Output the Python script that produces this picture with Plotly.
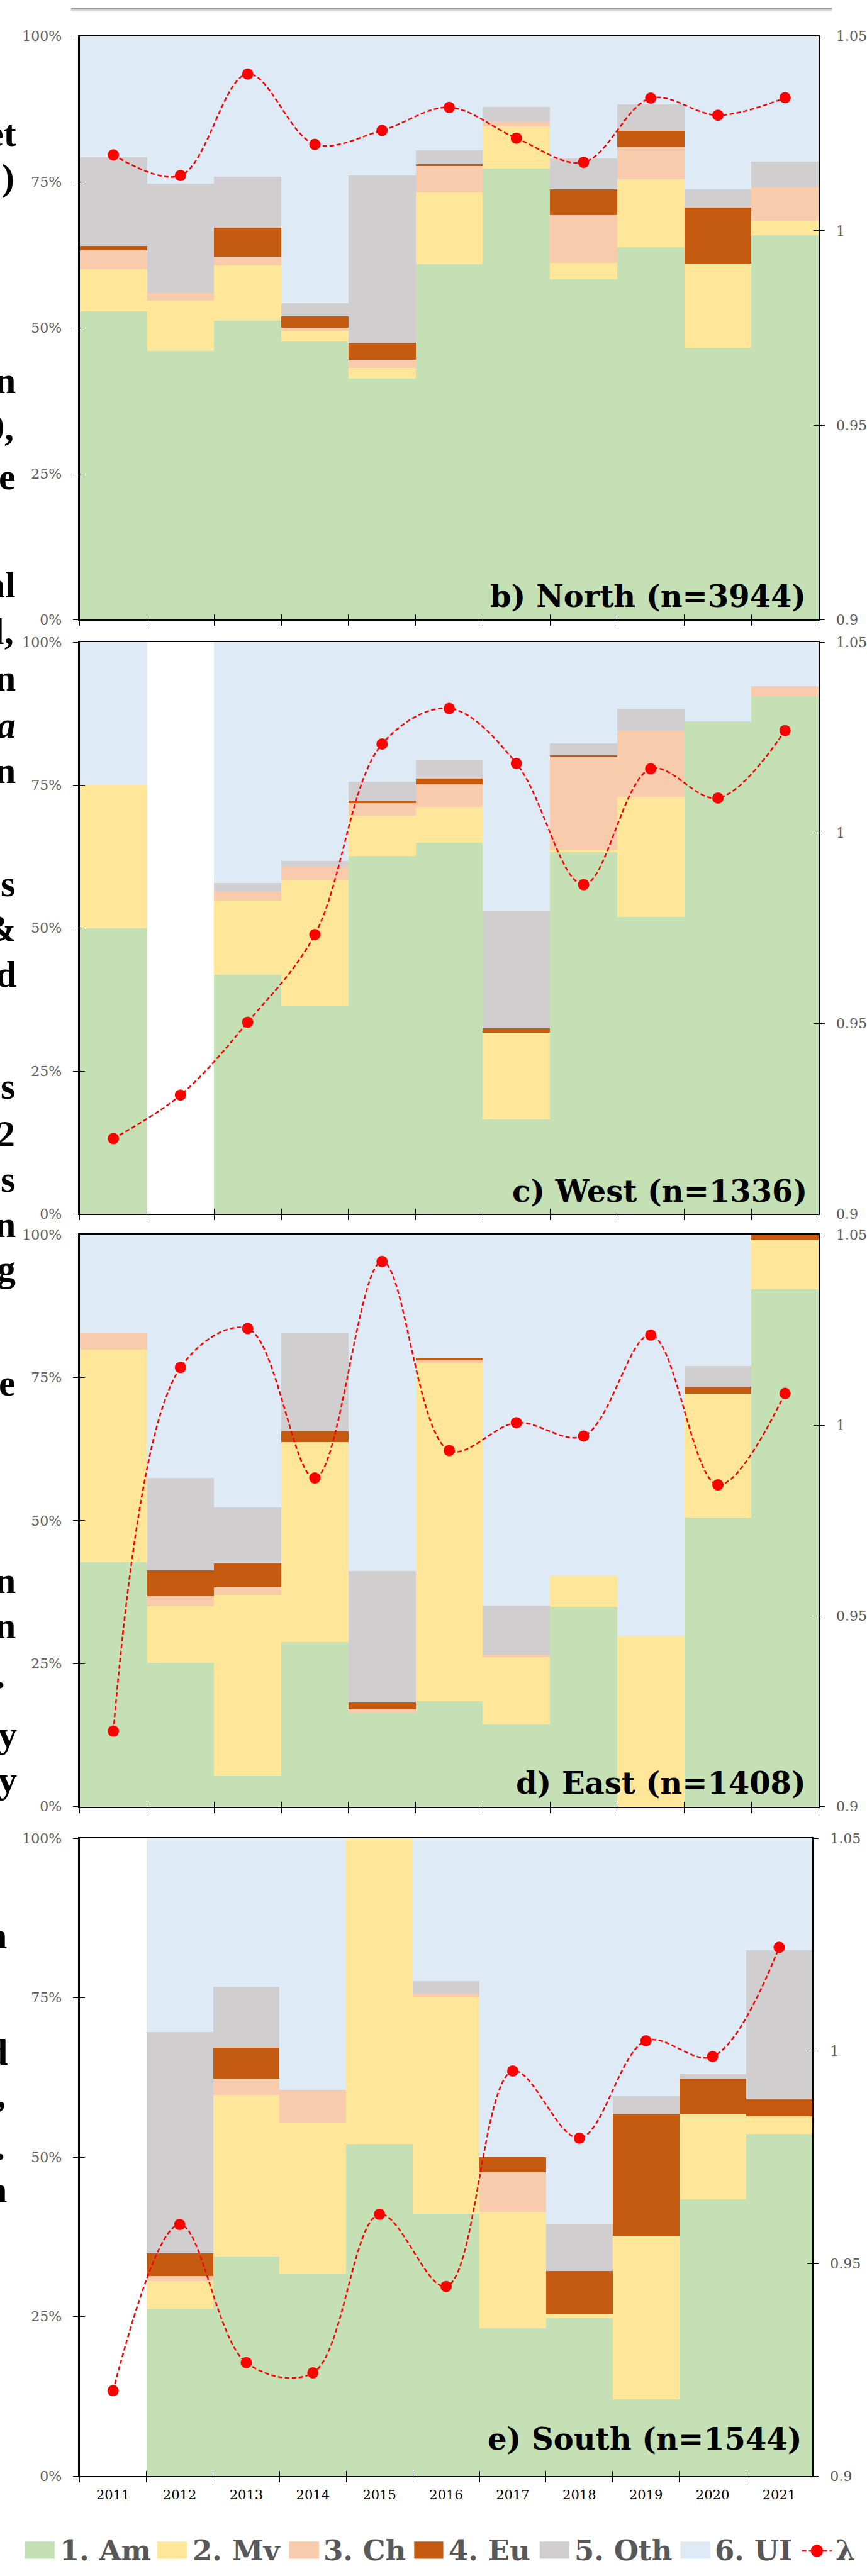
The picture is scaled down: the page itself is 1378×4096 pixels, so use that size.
import plotly.graph_objects as go

# ---------------- data ----------------
years = [str(y) for y in range(2011, 2022)]
series_names = ["1. Am", "2. Mv", "3. Ch", "4. Eu", "5. Oth", "6. UI"]
series_colors = ["#C5E0B4", "#FFE699", "#F8CBAD", "#C55A11", "#D0CECE", "#DEEBF7"]
lambda_name = "λ"

north_am = [52.9, 46.1, 51.2, 47.7, 41.3, 60.9, 77.3, 58.3, 63.9, 46.6, 65.9]
north_mv = [7.2, 8.6, 9.5, 1.8, 1.8, 12.3, 7.2, 2.8, 11.6, 14.4, 2.5]
north_ch = [3.2, 1.3, 1.5, 0.5, 1.4, 4.6, 0.9, 8.3, 5.5, 0.0, 5.7]
north_eu = [0.8, 0.0, 5.0, 2.0, 3.0, 0.3, 0.0, 4.4, 2.8, 9.6, 0.0]
north_oth = [15.2, 18.7, 8.7, 2.2, 28.6, 2.3, 2.5, 5.3, 4.5, 3.2, 4.4]
north_ui = [20.7, 25.3, 24.1, 45.8, 23.9, 19.6, 12.1, 20.9, 11.7, 26.2, 21.5]
north_lambda = [1.0195, 1.0142, 1.0403, 1.0222, 1.0258, 1.0317, 1.0238, 1.0176, 1.0341, 1.0297, 1.0342]

west_am = [50.0, 0, 41.8, 36.3, 62.6, 64.9, 16.5, 63.3, 51.9, 86.2, 90.6]
west_mv = [25.0, 0, 13.0, 22.0, 7.1, 6.3, 15.2, 0.3, 21.1, 0, 0]
west_ch = [0, 0, 1.6, 2.6, 2.1, 4.0, 0, 16.3, 11.6, 0, 1.7]
west_eu = [0, 0, 0, 0, 0.5, 0.9, 0.8, 0.3, 0, 0, 0]
west_oth = [0, 0, 1.5, 0.8, 3.3, 3.3, 20.5, 2.1, 3.8, 0, 0]
west_ui = [25.0, 0, 42.1, 38.3, 24.4, 20.6, 47.0, 17.7, 11.6, 13.8, 7.7]
west_lambda = [0.9198, 0.9312, 0.9503, 0.9733, 1.0233, 1.0326, 1.0182, 0.9864, 1.0168, 1.0091, 1.0268]

east_am = [42.7, 25.1, 5.4, 28.8, 16.5, 18.4, 14.4, 34.9, 0, 50.6, 90.5]
east_mv = [37.2, 9.9, 31.6, 35.0, 0, 59.1, 11.7, 5.5, 29.9, 21.6, 8.6]
east_ch = [2.9, 1.8, 1.3, 0, 0.5, 0.5, 0.5, 0, 0, 0, 0]
east_eu = [0, 4.5, 4.2, 1.8, 1.2, 0.4, 0, 0, 0, 1.2, 0.9]
east_oth = [0, 16.2, 9.8, 17.2, 23.0, 0, 8.6, 0, 0, 3.6, 0]
east_ui = [17.2, 42.5, 47.7, 17.2, 58.8, 21.6, 64.8, 59.6, 70.1, 23.0, 0]
east_lambda = [0.9198, 1.0152, 1.0254, 0.9862, 1.0430, 0.9934, 1.0007, 0.9972, 1.0237, 0.9844, 1.0084]

south_am = [0, 26.2, 34.4, 31.7, 52.1, 41.1, 23.2, 24.8, 12.1, 43.4, 53.7]
south_mv = [0, 4.4, 25.4, 23.6, 47.9, 34.0, 18.2, 0.6, 25.6, 13.4, 2.7]
south_ch = [0, 0.8, 2.5, 5.3, 0, 0.6, 6.3, 0, 0, 0, 0]
south_eu = [0, 3.5, 4.9, 0, 0, 0, 2.3, 6.8, 19.1, 5.5, 2.7]
south_oth = [0, 34.7, 9.5, 0, 0, 1.9, 0, 7.4, 2.8, 0.7, 23.4]
south_ui = [0, 30.4, 23.3, 39.4, 0, 22.4, 50.0, 60.4, 40.4, 37.0, 17.5]
south_lambda = [0.9201, 0.9592, 0.9267, 0.9243, 0.9616, 0.9446, 0.9953, 0.9795, 1.0024, 0.9987, 1.0244]

panel_titles = ["b) North (n=3944)", "c) West (n=1336)", "d) East (n=1408)", "e) South (n=1544)"]

left_ticks = [0, 25, 50, 75, 100]
left_ticktext = ["0%", "25%", "50%", "75%", "100%"]
right_ticks = [0.9, 0.95, 1.0, 1.05]
right_ticktext = ["0.9", "0.95", "1", "1.05"]

panels = [
    (panel_titles[0], [north_am, north_mv, north_ch, north_eu, north_oth, north_ui], north_lambda),
    (panel_titles[1], [west_am, west_mv, west_ch, west_eu, west_oth, west_ui], west_lambda),
    (panel_titles[2], [east_am, east_mv, east_ch, east_eu, east_oth, east_ui], east_lambda),
    (panel_titles[3], [south_am, south_mv, south_ch, south_eu, south_oth, south_ui], south_lambda),
]

# ---------------- geometry (reference px, scaled by S) ----------------
W, H = 1378, 4096
S = 0.707
FONT = "DejaVu Serif"
BODY_FONT = "Liberation Serif"
GREY = "#595959"


def fx(x):
    return x * S / W


def fy(y):
    return 1 - y * S / H


# top, bottom, left, right of each plot box in reference pixels
geom = [(65, 1385, 181, 1858), (1436, 2730, 181, 1858), (2777, 4071, 181, 1858), (4143, 5586, 181, 1844)]
title_pos = [(1831, 1357), (1833, 2703), (1831, 4043), (1820, 5527)]


def xname(n):
    return "x" if n == 1 else f"x{n}"


def yname(n):
    return "y" if n == 1 else f"y{n}"


def xkey(n):
    return "xaxis" if n == 1 else f"xaxis{n}"


def ykey(n):
    return "yaxis" if n == 1 else f"yaxis{n}"


fig = go.Figure()
layout_axes = {}
annotations = []
shapes = []
boundaries = [k - 0.5 for k in range(12)]

for i, (title, series, lam) in enumerate(panels):
    top, bot, left, right = geom[i]
    xm, xo = 2 * i + 1, 2 * i + 2
    ym, yil, yr, yri = 4 * i + 1, 4 * i + 2, 4 * i + 3, 4 * i + 4

    for name, color, vals in zip(series_names, series_colors, series):
        fig.add_trace(go.Bar(
            x=years, y=vals, name=name, marker=dict(color=color, line=dict(width=0)),
            xaxis=xname(xm), yaxis=yname(ym), showlegend=False, hoverinfo="skip"))

    fig.add_trace(go.Scatter(
        x=years, y=lam, name=lambda_name, mode="lines+markers",
        line=dict(color="#FF0000", width=2.5, dash="7px,4px", shape="spline", smoothing=1.0),
        marker=dict(color="#FF0000", size=18),
        xaxis=xname(xm), yaxis=yname(yr), showlegend=False, hoverinfo="skip"))

    # helper (empty) traces so the tick-only overlay axes are drawn
    for xa, ya in [(xo, ym), (xm, yil), (xm, yri)]:
        fig.add_trace(go.Scatter(x=[None], y=[None], mode="markers", xaxis=xname(xa),
                                 yaxis=yname(ya), showlegend=False, hoverinfo="skip"))

    layout_axes[xkey(xm)] = dict(
        domain=[fx(left), fx(right)], anchor=yname(ym), type="category",
        range=[-0.5, 10.5], tickson="boundaries", ticks="outside", ticklen=8,
        tickwidth=1, tickcolor="black", showline=True, linewidth=2, linecolor="black",
        mirror=True, showgrid=False, zeroline=False, showticklabels=(i == 3),
        tickfont=dict(family=FONT, size=21, color="black"), ticklabelstandoff=10,
        fixedrange=True)
    layout_axes[xkey(xo)] = dict(
        overlaying=xname(xm), anchor=yname(ym), side="bottom", range=[-0.5, 10.5],
        tickmode="array", tickvals=boundaries, ticks="inside", ticklen=8, tickwidth=1,
        tickcolor="black", showticklabels=False, showline=False, showgrid=False,
        zeroline=False, fixedrange=True)
    layout_axes[ykey(ym)] = dict(
        domain=[fy(bot), fy(top)], anchor=xname(xm), range=[0, 100],
        tickmode="array", tickvals=left_ticks, ticktext=left_ticktext,
        ticks="outside", ticklen=8, tickwidth=1, tickcolor="black",
        showline=True, linewidth=2.3, linecolor="black", showgrid=False, zeroline=False,
        tickfont=dict(family=FONT, size=22, color=GREY), ticklabelstandoff=14,
        fixedrange=True)
    layout_axes[ykey(yil)] = dict(
        overlaying=yname(ym), anchor=xname(xm), side="left", range=[0, 100],
        tickmode="array", tickvals=left_ticks, ticks="inside", ticklen=8, tickwidth=1,
        tickcolor="black", showticklabels=False, showline=False, showgrid=False,
        zeroline=False, fixedrange=True)
    layout_axes[ykey(yr)] = dict(
        overlaying=yname(ym), anchor=xname(xm), side="right", range=[0.9, 1.05],
        tickmode="array", tickvals=right_ticks, ticktext=right_ticktext,
        ticks="outside", ticklen=8, tickwidth=1, tickcolor="black",
        showline=True, linewidth=1.4, linecolor="black", showgrid=False, zeroline=False,
        tickfont=dict(family=FONT, size=22, color=GREY), ticklabelstandoff=14,
        fixedrange=True)
    layout_axes[ykey(yri)] = dict(
        overlaying=yname(ym), anchor=xname(xm), side="right", range=[0.9, 1.05],
        tickmode="array", tickvals=right_ticks, ticks="inside", ticklen=8, tickwidth=1,
        tickcolor="black", showticklabels=False, showline=False, showgrid=False,
        zeroline=False, fixedrange=True)

    # panel title
    tr, tb = title_pos[i]
    tsize = 48
    annotations.append(dict(
        text=title, xref="paper", yref="paper", x=(tr * S + 1) / W,
        y=1 - (tb * S + 0.236 * tsize + 1) / H, xanchor="right", yanchor="bottom",
        showarrow=False, font=dict(family=FONT, size=tsize, color="black", weight="bold")))

# ---------------- legend (drawn manually) ----------------
leg_y0, leg_y1, leg_text_y = 5734, 5773, 5755
leg_items = [(56, 124, 134), (357, 424, 435), (656, 724, 733),
             (940, 1006, 1016), (1225, 1292, 1302), (1544, 1612, 1621)]
for (sx0, sx1, tx), name, color in zip(leg_items, series_names, series_colors):
    shapes.append(dict(type="rect", xref="paper", yref="paper", x0=fx(sx0), x1=fx(sx1),
                       y0=fy(leg_y1), y1=fy(leg_y0), fillcolor=color, line=dict(width=0)))
    annotations.append(dict(text=name, xref="paper", yref="paper", x=fx(tx) - 1 / W,
                            y=fy(leg_text_y), xanchor="left", yanchor="middle", showarrow=False,
                            font=dict(family=FONT, size=45, color=GREY, weight="bold")))
shapes.append(dict(type="line", xref="paper", yref="paper", x0=fx(1820), x1=fx(1888),
                   y0=fy(leg_text_y), y1=fy(leg_text_y),
                   line=dict(color="#FF0000", width=2.5, dash="7px,4px")))
shapes.append(dict(type="circle", xref="paper", yref="paper", x0=fx(1840), x1=fx(1868),
                   y0=fy(leg_text_y + 14), y1=fy(leg_text_y - 14),
                   fillcolor="#FF0000", line=dict(width=0)))
annotations.append(dict(text=lambda_name, xref="paper", yref="paper", x=fx(1894),
                        y=fy(leg_text_y), xanchor="left", yanchor="middle", showarrow=False,
                        font=dict(family=FONT, size=45, color=GREY, weight="bold")))

# ---------------- page decorations ----------------
for y0, y1, c in [(0, 3, "#9a9a9a"), (3, 5.5, "#b8b8b8"), (5.5, 8, "#d8d8d8"), (8, 10, "#efefef")]:
    shapes.append(dict(type="rect", xref="paper", yref="paper", x0=fx(161), x1=fx(1888),
                       y0=fy(y1), y1=fy(y0), fillcolor=c, line=dict(width=0)))

# fragments of the neighbouring text column (clipped by the left edge)
body_fragments = [
    ("et", 39, 315), (")", 34, 415), ("n", 37, 874), ("0,", 33, 981), ("e", 37, 1092),
    ("al", 37, 1337), ("l,", 33, 1442), ("n", 37, 1547), ("<i>a</i>", 37, 1654),
    ("n", 37, 1757), ("s", 35, 2012), ("&", 38, 2114), ("d", 38, 2217), ("s", 35, 2471),
    ("2", 35, 2579), ("s", 35, 2681), ("n", 37, 2784), ("g", 37, 2884), ("e", 37, 3143),
    ("n", 37, 3589), ("n", 37, 3692), (".", 13, 3804), ("y", 40, 3938), ("y", 40, 4040),
    ("n", 17, 4393), ("d", 18, 4656), (",", 15, 4753), (".", 13, 4871), ("n", 17, 4968),
]
bsize = 60
for txt, rx, base in body_fragments:
    annotations.append(dict(text=txt, xref="paper", yref="paper", x=(rx * S + 1) / W,
                            y=1 - (base * S + 0.216 * bsize + 1) / H, xanchor="right",
                            yanchor="bottom", showarrow=False,
                            font=dict(family=BODY_FONT, size=bsize, color="black",
                                      weight="bold")))

fig.update_layout(
    width=W, height=H, margin=dict(l=0, r=0, t=0, b=0, pad=0),
    paper_bgcolor="white", plot_bgcolor="white",
    barmode="stack", bargap=0, showlegend=False,
    font=dict(family=FONT), annotations=annotations, shapes=shapes,
    **layout_axes)

fig.write_html("out.html", config={"displayModeBar": False, "staticPlot": True},
               post_script="document.body.style.margin='0';document.body.style.overflow='hidden';")
